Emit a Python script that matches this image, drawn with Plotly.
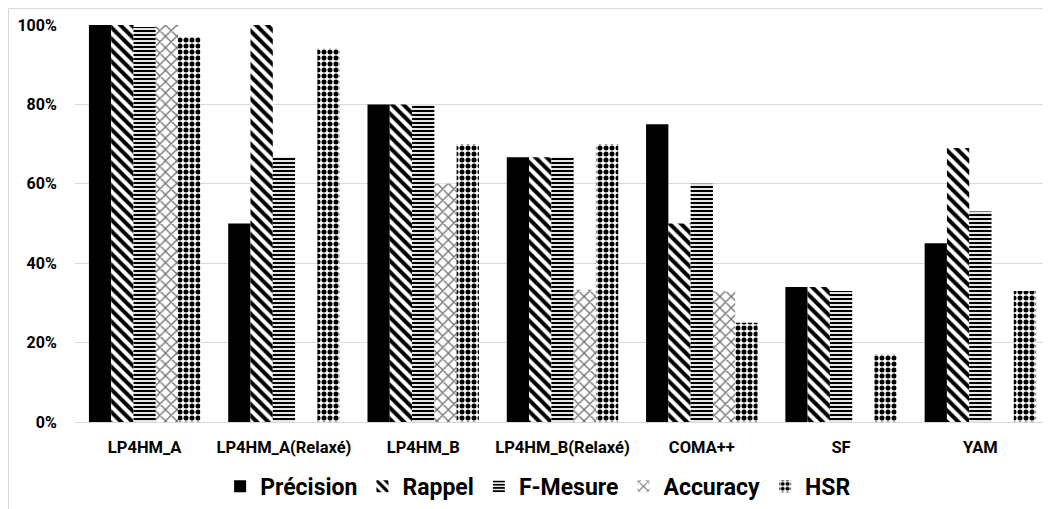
import plotly.graph_objects as go

categories = ["LP4HM_A", "LP4HM_A(Relaxé)", "LP4HM_B", "LP4HM_B(Relaxé)", "COMA++", "SF", "YAM"]
precision = [1.00, 0.50, 0.80, 0.667, 0.75, 0.34, 0.45]
rappel = [1.00, 1.00, 0.80, 0.667, 0.50, 0.34, 0.69]
f_mesure = [0.995, 0.667, 0.80, 0.667, 0.60, 0.33, 0.53]
accuracy = [1.00, 0.0, 0.60, 0.333, 0.33, 0.0, 0.0]
hsr = [0.97, 0.94, 0.70, 0.70, 0.25, 0.17, 0.33]

series = [
    ("Précision", precision, dict(shape="", fgcolor="black", bgcolor="black")),
    ("Rappel", rappel, dict(shape="\\", fgcolor="black", bgcolor="white", size=8, solidity=0.5)),
    ("F-Mesure", f_mesure, dict(shape="-", fgcolor="black", bgcolor="white", size=4, solidity=0.55)),
    ("Accuracy", accuracy, dict(shape="x", fgcolor="#6f6f6f", bgcolor="white", size=8, solidity=0.3)),
    ("HSR", hsr, dict(shape=".", fgcolor="black", bgcolor="white", size=6, solidity=0.55)),
]

fig = go.Figure()
for name, vals, pat in series:
    fig.add_trace(go.Bar(
        name=name, x=categories, y=vals,
        marker=dict(color="black" if name == "Précision" else "white",
                    line=dict(width=0), pattern=dict(fgopacity=1, **pat)),
    ))

font_fam = "Roboto, Arial, sans-serif"
fig.update_layout(
    width=1043, height=501,
    paper_bgcolor="white", plot_bgcolor="white",
    margin=dict(l=67, r=1, t=17, b=85),
    barmode="group", bargap=0.2, bargroupgap=0,
    font=dict(family=font_fam, color="black"),
    legend=dict(orientation="h", x=0.475, xanchor="center", y=-0.108, yanchor="top",
                font=dict(size=23, family=font_fam, weight="bold"),
                traceorder="normal"),
    showlegend=True,
)
fig.update_yaxes(range=[0, 1.0], dtick=0.2, tickformat=".0%", showgrid=True,
                 gridcolor="#d9d9d9", gridwidth=1, zeroline=False,
                 ticks="outside", ticklen=14, tickcolor="rgba(0,0,0,0)",
                 tickfont=dict(size=16, weight="bold"))
fig.update_xaxes(showline=True, linecolor="#d9d9d9", linewidth=1,
                 ticks="outside", ticklen=10, tickcolor="rgba(0,0,0,0)",
                 tickfont=dict(size=16.5, weight="bold"))

fig.add_shape(type="line", xref="paper", yref="paper", x0=-0.0682, x1=-0.0682, y0=-0.3, y1=1.0414,
              line=dict(color="#d9d9d9", width=1))
fig.add_shape(type="line", xref="paper", yref="paper", x0=-0.0682, x1=1.01, y0=1.0414, y1=1.0414,
              line=dict(color="#d9d9d9", width=1))

fig.write_html("out.html")
